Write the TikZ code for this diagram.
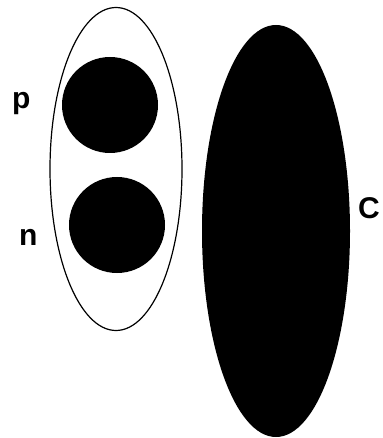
\documentclass[tikz,border=0pt]{standalone}
\usepackage{fontspec}
\setmainfont{Liberation Sans}
\usetikzlibrary{shapes.geometric}
\begin{document}
\begin{tikzpicture}[x=1pt,y=-1pt,
  lab/.style={font=\fontsize{30}{30}\selectfont\bfseries, inner sep=0pt, anchor=base west},
  shell/.style={ellipse, draw=black, line width=1.2pt, fill=white, inner sep=0pt},
  ball/.style={circle, fill=black, inner sep=0pt, minimum size=96pt},
  blob/.style={ellipse, fill=black, inner sep=0pt}]
\useasboundingbox (0,0) rectangle (382,438);
\node[shell, minimum width=132pt, minimum height=323pt] (nuc) at (116,169) {};
\node[ball] (pb) at (110,105) {};
\node[ball] (nb) at (117,225) {};
\node[blob, minimum width=148pt, minimum height=412pt] (cb) at (276,231) {};
\node[lab] (pl) at (12,109) {p};
\node[lab] (nl) at (19,245) {n};
\node[lab] (cl) at (358,218) {C};
\end{tikzpicture}
\end{document}
